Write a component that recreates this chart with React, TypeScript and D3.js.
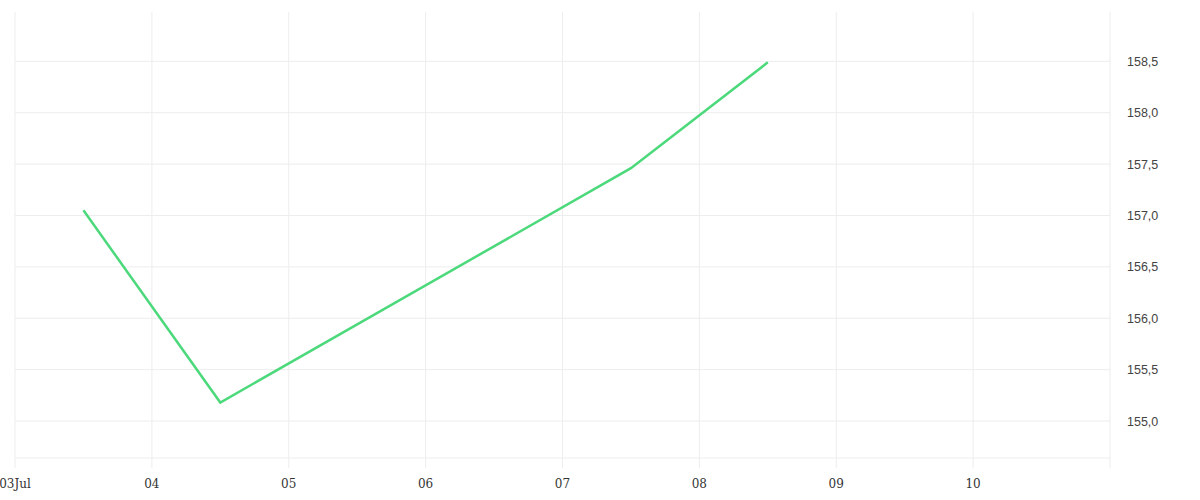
import * as d3 from 'd3';

// price series (timestamps at midday)
const dates = ['2024-07-03T12:00', '2024-07-04T12:00', '2024-07-07T12:00', '2024-07-08T12:00'];
const prices = [157.05, 155.18, 157.46, 158.49];
const yTicks = [155.0, 155.5, 156.0, 156.5, 157.0, 157.5, 158.0, 158.5];

const width = 1200;
const height = 500;

const App = () => {
    const parse = d3.timeParse('%Y-%m-%dT%H:%M');
    const data = dates.map((d, i) => ({date: parse(d) as Date, value: prices[i]}));

    const start = new Date(2024, 6, 3);
    const end = new Date(2024, 6, 11);

    const x = d3.scaleTime().domain([start, end]).range([15, 1110]);
    const y = d3.scaleLinear().domain([154.64, 158.98]).range([458, 12]);

    const days = d3.timeDay.range(start, d3.timeDay.offset(end, 1));
    const fmt = (d: Date, i: number) => i === 0 ? d3.timeFormat('%d%b')(d) : d3.timeFormat('%d')(d);

    const line = d3.line<{date: Date, value: number}>()
        .x(d => x(d.date))
        .y(d => y(d.value));

    return (
        <svg width={width} height={height} style={{position: 'absolute', left: 0, top: 0}}>
            {/* horizontal grid */}
            {yTicks.map(t => (
                <line key={t} x1={15} x2={1110} y1={y(t)} y2={y(t)} stroke="#ededed" strokeWidth={1} />
            ))}
            <line x1={15} x2={1110} y1={458} y2={458} stroke="#ededed" strokeWidth={1} />

            {/* vertical grid */}
            {days.map((d, i) => (
                <line key={i} x1={x(d)} x2={x(d)} y1={12} y2={468} stroke="#ededed" strokeWidth={1} />
            ))}

            {/* x labels */}
            {days.slice(0, -1).map((d, i) => (
                <text key={i} x={x(d)} y={488} textAnchor="middle" fontSize="12px" fill="#333"
                      fontFamily="DejaVu Serif, serif">{fmt(d, i)}</text>
            ))}

            {/* y labels */}
            {yTicks.map(t => (
                <text key={t} x={1127} y={y(t) + 4.5} fontSize="12.5px" fill="#444"
                      fontFamily="Liberation Sans, Arial, sans-serif">{d3.format('.1f')(t).replace('.', ',')}</text>
            ))}

            <path d={line(data) ?? ''} fill="none" stroke="#4cd97b" strokeWidth={2.5} strokeLinejoin="miter" />
        </svg>
    )
}

export default App
